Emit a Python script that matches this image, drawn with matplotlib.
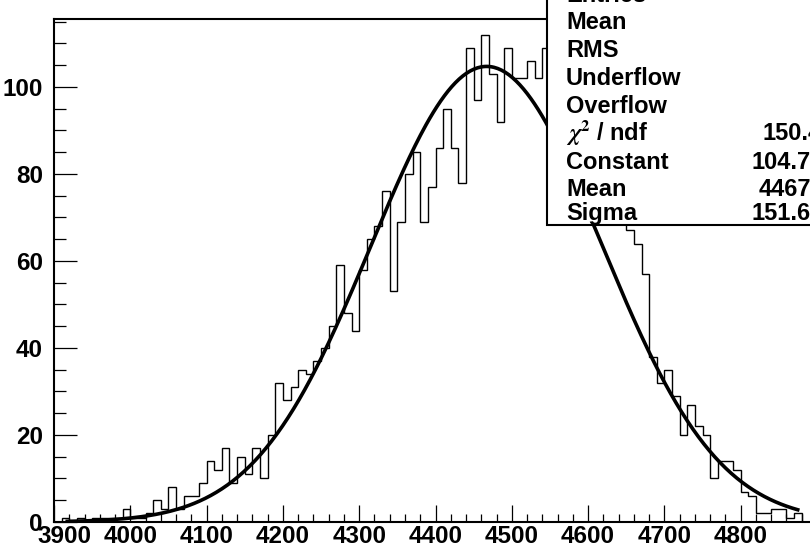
import matplotlib
matplotlib.use("Agg")
import matplotlib.pyplot as plt
import matplotlib.transforms as mtransforms
import numpy as np
from matplotlib.patches import Rectangle

plt.rcParams['font.family'] = ['Liberation Sans', 'DejaVu Sans']
plt.rcParams['font.weight'] = 'bold'
plt.rcParams['mathtext.fontset'] = 'stix'

# histogram: 10-wide bins starting at 3900
bin_start = 3900
bin_width = 10
counts = [0, 1, 0, 1, 0, 1, 1, 1, 1, 3, 1, 1, 2,
          5, 3, 8, 3, 6, 6, 9, 14, 12, 17, 9, 15, 11, 17, 10, 20, 32, 28, 31, 35, 34,
          37, 40, 45,
          59, 48, 44, 58, 65, 68, 76, 53, 69, 80, 85, 69, 77, 86, 95, 86, 78, 109, 97,
          112, 103, 92, 109, 102, 102, 106, 102, 109,
          104, 99, 100, 95, 92, 88, 85, 81, 77, 73,
          67, 64, 57, 38, 32, 35, 29, 20, 27, 22, 20, 10, 14, 14, 12, 7, 6, 2, 2, 3, 3, 1, 2]

# gaussian fit result (from the stats box)
fit_const = 104.7
fit_mean = 4467
fit_sigma = 151.6
fit_range = (3915, 4877)

stat_labels = ["Entries", "Mean", "RMS", "Underflow", "Overflow",
               r"$\chi^{2}$ / ndf", "Constant", "Mean", "Sigma"]
chi2_text = "150.4"
param_values = ["104.7", "4467", "151.6"]

edges = bin_start + bin_width * np.arange(len(counts) + 1)

W, H = 810, 548
fig = plt.figure(figsize=(W / 100, H / 100), dpi=100)
ax = fig.add_axes([54 / W, (H - 522) / H, 763 / W, 503 / H])

ax.stairs(counts, edges, baseline=0, color='black', lw=1.0)

xf = np.linspace(fit_range[0], fit_range[1], 400)
yf = fit_const * np.exp(-0.5 * ((xf - fit_mean) / fit_sigma) ** 2)
ax.plot(xf, yf, color='black', lw=2.6, solid_capstyle='butt')

ax.set_xlim(3900, 4900)
ax.set_ylim(0, 115.6)

ax.set_xticks(np.arange(3900, 4801, 100))
ax.set_xticks(np.arange(3900, 4900, 20), minor=True)
ax.set_yticks(np.arange(0, 101, 20))
ax.set_yticks(np.arange(0, 116, 5), minor=True)

ax.tick_params(axis='both', which='both', direction='in', width=0.9)
ax.tick_params(axis='x', which='major', length=12, pad=2)
ax.tick_params(axis='x', which='minor', length=6)
ax.tick_params(axis='y', which='major', length=16.5, pad=8)
ax.tick_params(axis='y', which='minor', length=8.5)
for lab in ax.get_xticklabels() + ax.get_yticklabels():
    lab.set_fontweight('bold')
    lab.set_family(['Liberation Sans Narrow', 'Liberation Sans'])
    lab.set_fontsize(17.5)
# ROOT pushes the first x label to the right
first = ax.get_xticklabels()[0]
first.set_transform(first.get_transform() +
                    mtransforms.ScaledTranslation(10 / 100, 0, fig.dpi_scale_trans))
for sp in ax.spines.values():
    sp.set_linewidth(1.5)

# stats box
fig.add_artist(Rectangle((547 / W, (H - 225) / H), 0.5, 0.6,
                         transform=fig.transFigure, facecolor='white',
                         edgecolor='black', lw=1.5, zorder=5))
baselines = [2, 29, 57, 85, 113, 140, 169, 196, 220]
for lab, b in zip(stat_labels, baselines):
    fig.text(566 / W, (H - b) / H, lab, fontsize=17, fontweight='bold',
             va='baseline', ha='left', zorder=6)
fig.text(762 / W, (H - baselines[5]) / H, chi2_text, fontsize=17,
         fontweight='bold', va='baseline', ha='left', zorder=6)
for val, b in zip(param_values, baselines[6:]):
    fig.text(811 / W, (H - b) / H, val, fontsize=17, fontweight='bold',
             va='baseline', ha='right', zorder=6)

fig.savefig("out.png", dpi=100)
